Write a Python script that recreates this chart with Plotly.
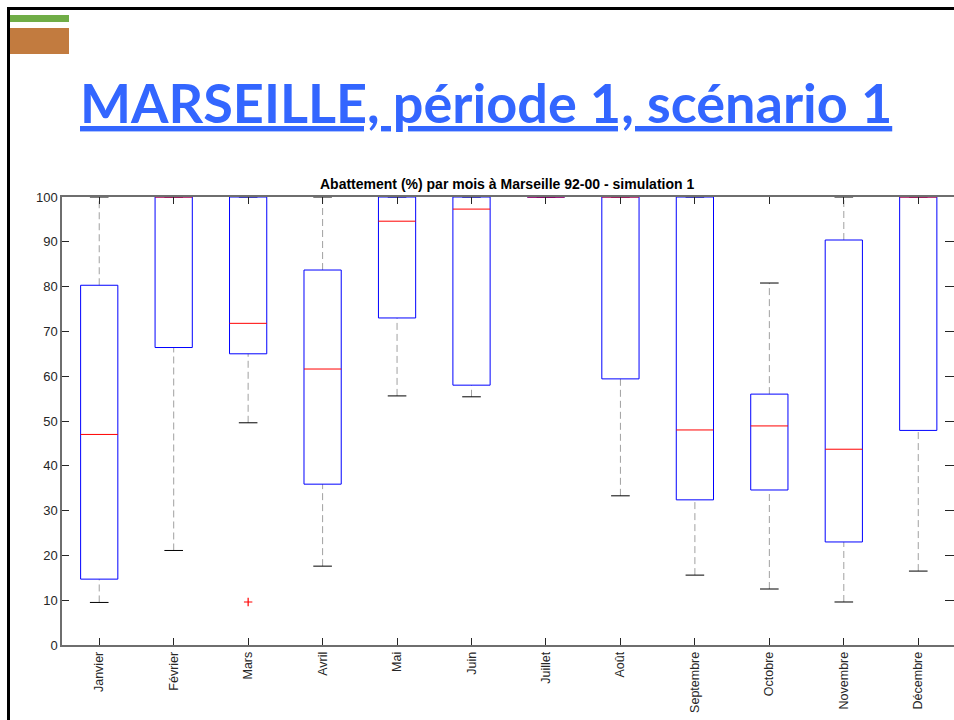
import plotly.graph_objects as go

# Monthly abatement statistics (%), Marseille 92-00, simulation 1
months = ["Janvier", "Février", "Mars", "Avril", "Mai", "Juin", "Juillet",
          "Août", "Septembre", "Octobre", "Novembre", "Décembre"]
whisker_low = [9.5, 21.1, 49.6, 17.6, 55.6, 55.4, 100, 33.3, 15.6, 12.5, 9.6, 16.5]
q1 =          [14.7, 66.4, 65.0, 35.9, 73.0, 58.0, 100, 59.4, 32.4, 34.6, 23.0, 47.9]
median =      [47.0, 100, 71.8, 61.6, 94.6, 97.3, 100, 100, 48.0, 48.9, 43.7, 100]
q3 =          [80.3, 100, 100, 83.7, 100, 100, 100, 100, 100, 56.0, 90.4, 100]
whisker_high = [100, 100, 100, 100, 100, 100, 100, 100, 100, 80.8, 100, 100]
outlier_month = ["Mars"]
outlier_value = [9.6]

pos = list(range(1, len(months) + 1))
BOX_HALF = 0.25
CAP_HALF = 0.125

def segments(pairs):
    xs, ys = [], []
    for (x0, y0, x1, y1) in pairs:
        xs += [x0, x1, None]
        ys += [y0, y1, None]
    return xs, ys

fig = go.Figure()

# dashed whiskers
wx, wy = segments([(p, lo, p, a) for p, lo, a in zip(pos, whisker_low, q1)] +
                  [(p, b, p, hi) for p, b, hi in zip(pos, q3, whisker_high)])
fig.add_trace(go.Scatter(x=wx, y=wy, mode="lines", cliponaxis=False,
                         line=dict(color="#a0a0a0", width=1, dash="7px,4px"),
                         hoverinfo="skip", showlegend=False))

# whisker caps
cx, cy = segments([(p - CAP_HALF, v, p + CAP_HALF, v)
                   for p, lo, hi in zip(pos, whisker_low, whisker_high) for v in (lo, hi)])
fig.add_trace(go.Scatter(x=cx, y=cy, mode="lines", cliponaxis=False,
                         line=dict(color="black", width=1),
                         hoverinfo="skip", showlegend=False))

# boxes
bx, by = [], []
for p, a, b in zip(pos, q1, q3):
    bx += [p - BOX_HALF, p + BOX_HALF, p + BOX_HALF, p - BOX_HALF, p - BOX_HALF, None]
    by += [a, a, b, b, a, None]
fig.add_trace(go.Scatter(x=bx, y=by, mode="lines", cliponaxis=False,
                         line=dict(color="#0000ff", width=1),
                         hoverinfo="skip", showlegend=False))

# medians
mx, my = segments([(p - BOX_HALF, m, p + BOX_HALF, m) for p, m in zip(pos, median)])
fig.add_trace(go.Scatter(x=mx, y=my, mode="lines", cliponaxis=False,
                         line=dict(color="#ff0000", width=1),
                         hoverinfo="skip", showlegend=False))

# outliers
fig.add_trace(go.Scatter(x=[months.index(m) + 1 for m in outlier_month], y=outlier_value,
                         mode="markers", cliponaxis=False,
                         marker=dict(symbol="cross-thin", size=6,
                                     line=dict(color="#ff0000", width=1.2)),
                         hoverinfo="skip", showlegend=False))

W, H = 954, 720
L, R, T, B = 62, 0, 197, 75
PW, PH = W - L - R, H - T - B

def px(x):
    return (x - L) / PW

def py(y):
    return (H - B - y) / PH

axis_col = "#6e6e6e"
tick_col = "#262626"
fig.update_layout(
    width=W, height=H,
    margin=dict(l=L, r=R, t=T, b=B),
    paper_bgcolor="white", plot_bgcolor="white",
    font=dict(family="Liberation Sans, Arial, sans-serif", size=12, color="#262626"),
    xaxis=dict(range=[0.5, 12.48], tickvals=pos, ticktext=months, tickangle=-90,
               ticks="inside", ticklen=7, tickcolor=tick_col, tickwidth=1,
               showline=True, linecolor=axis_col, linewidth=1.5, mirror="ticks",
               showgrid=False, zeroline=False, tickfont=dict(size=12.5)),
    yaxis=dict(range=[0, 100], tickvals=list(range(0, 101, 10)),
               ticks="inside", ticklen=7, tickcolor=tick_col, tickwidth=1,
               showline=True, linecolor=axis_col, linewidth=1.5, mirror=False,
               showgrid=False, zeroline=False, tickfont=dict(size=13)),
    # right-hand tick marks, the frame edge itself sits just past the page
    yaxis2=dict(range=[0, 100], tickvals=list(range(0, 101, 10)), overlaying="y",
                side="right", matches="y", ticks="inside", ticklen=9,
                tickcolor=tick_col, tickwidth=1, showline=False,
                showticklabels=False, showgrid=False, zeroline=False),
    shapes=[
        # slide frame
        dict(type="line", xref="paper", yref="paper", x0=px(8.5), x1=px(8.5),
             y0=py(7), y1=py(722), line=dict(color="black", width=3)),
        dict(type="line", xref="paper", yref="paper", x0=px(7), x1=px(956),
             y0=py(8.5), y1=py(8.5), line=dict(color="black", width=3)),
        # slide badge
        dict(type="rect", xref="paper", yref="paper", x0=px(10), x1=px(69),
             y0=py(22), y1=py(15), fillcolor="#70ad47", line=dict(width=0)),
        dict(type="rect", xref="paper", yref="paper", x0=px(10), x1=px(69),
             y0=py(54), y1=py(28), fillcolor="#c27b3f", line=dict(width=0)),
    ],
    annotations=[
        dict(text="<u>MARSEILLE, période 1, scénario 1</u>", xref="paper", yref="paper",
             x=px(486), y=py(102), xanchor="center", yanchor="middle", showarrow=False,
             font=dict(family="Lato, Open Sans, sans-serif", size=54, color="#3366ff",
                       weight="bold")),
        dict(text="<b>Abattement (%) par mois à Marseille 92-00 - simulation 1</b>",
             xref="paper", yref="paper", x=px(507), y=py(194), xanchor="center",
             yanchor="bottom", showarrow=False,
             font=dict(size=14, color="black")),
    ],
)

# invisible anchor so the right-hand tick axis is drawn
fig.add_trace(go.Scatter(x=[None], y=[None], yaxis="y2", showlegend=False,
                         hoverinfo="skip"))

fig.write_html("out.html")
